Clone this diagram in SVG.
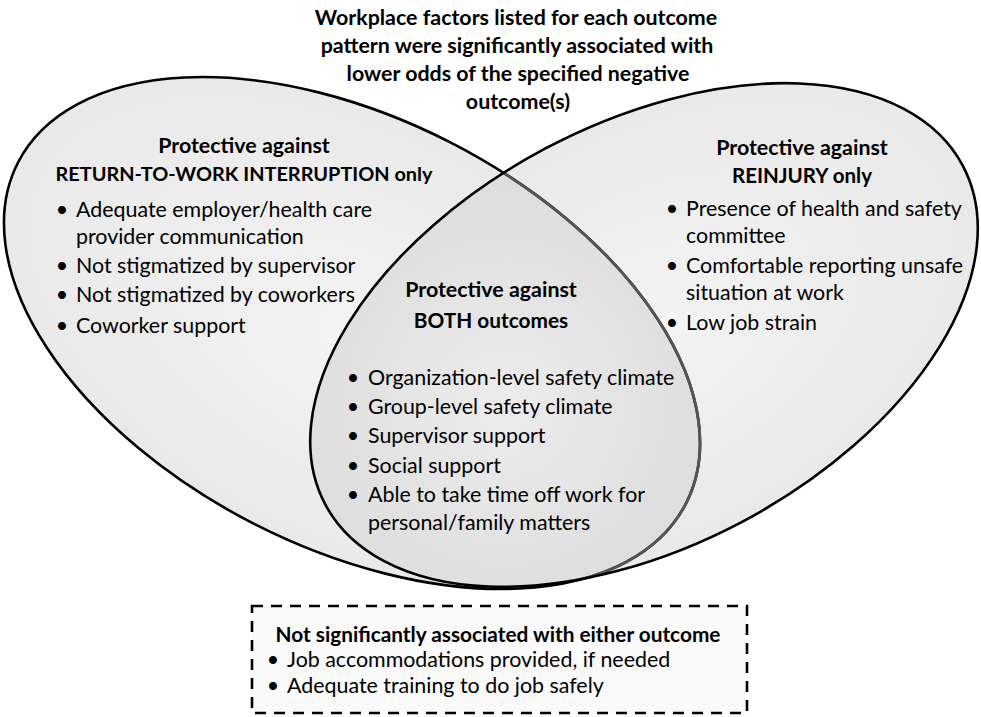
<svg xmlns="http://www.w3.org/2000/svg" width="981" height="717" viewBox="0 0 981 717">
<style>
text{font-family:Lato,"Liberation Sans",sans-serif;font-size:21.4px;fill:#000}
.h{font-weight:bold;text-anchor:middle}
.b{text-anchor:middle}
.outline{fill:none;stroke:#000;stroke-width:2.6}
</style>
<defs>
<radialGradient id="gOuter" cx="0.5" cy="0.5" r="0.5">
<stop offset="0" stop-color="#f4f4f4"/>
<stop offset="1" stop-color="#e9e9e9"/>
</radialGradient>
<radialGradient id="gInner" cx="0.5" cy="0.55" r="0.5">
<stop offset="0" stop-color="#ececec"/>
<stop offset="1" stop-color="#dddddd"/>
</radialGradient>
<clipPath id="clipL"><ellipse cx="352" cy="333" rx="375" ry="214.5" transform="rotate(27 352 333)"/></clipPath>
<clipPath id="clipR"><ellipse cx="644" cy="335" rx="361" ry="211" transform="rotate(-28 644 335)"/></clipPath>
</defs>
<rect width="981" height="717" fill="#fff"/>

<g id="shapes">
<ellipse cx="352" cy="333" rx="375" ry="214.5" transform="rotate(27 352 333)" fill="url(#gOuter)"/>
<ellipse cx="644" cy="335" rx="361" ry="211" transform="rotate(-28 644 335)" fill="url(#gOuter)"/>
</g>

<g id="overlap" clip-path="url(#clipR)">
<rect x="290" y="160" width="430" height="440" fill="url(#gInner)" clip-path="url(#clipL)"/>
</g>

<g id="outlines">
<ellipse class="outline" cx="352" cy="333" rx="375" ry="214.5" transform="rotate(27 352 333)"/>
<g clip-path="url(#clipR)">
<ellipse cx="352" cy="333" rx="375" ry="214.5" transform="rotate(27 352 333)" fill="none" stroke="#555" stroke-width="2.8"/>
</g>
<ellipse class="outline" cx="644" cy="335" rx="361" ry="211" transform="rotate(-28 644 335)"/>
</g>

<g id="title">
<text class="h" x="516" y="25">Workplace factors listed for each outcome</text>
<text class="h" x="517" y="53">pattern were significantly associated with</text>
<text class="h" x="518" y="81">lower odds of the specified negative</text>
<text class="h" x="518" y="109">outcome(s)</text>
</g>

<g id="rtw-only">
<text class="h" x="244" y="153">Protective against</text>
<text class="h" x="244" y="181" style="font-size:19.9px">RETURN-TO-WORK INTERRUPTION only</text>
<text class="b" x="62" y="217">•</text>
<text x="76" y="217">Adequate employer/health care</text>
<text x="76" y="244">provider communication</text>
<text class="b" x="62" y="273">•</text>
<text x="76" y="273">Not stigmatized by supervisor</text>
<text class="b" x="62" y="302">•</text>
<text x="76" y="302">Not stigmatized by coworkers</text>
<text class="b" x="62" y="333">•</text>
<text x="76" y="333">Coworker support</text>
</g>

<g id="reinjury-only">
<text class="h" x="802" y="155">Protective against</text>
<text class="h" x="802" y="183" style="font-size:20.5px">REINJURY only</text>
<text class="b" x="672" y="216">•</text>
<text x="686" y="216">Presence of health and safety</text>
<text x="686" y="243">committee</text>
<text class="b" x="672" y="273">•</text>
<text x="686" y="273">Comfortable reporting unsafe</text>
<text x="686" y="300">situation at work</text>
<text class="b" x="672" y="330">•</text>
<text x="686" y="330">Low job strain</text>
</g>

<g id="both">
<text class="h" x="491" y="297">Protective against</text>
<text class="h" x="491" y="328" style="font-size:20.8px">BOTH outcomes</text>
<text class="b" x="353" y="385">•</text>
<text x="368" y="385">Organization-level safety climate</text>
<text class="b" x="353" y="414">•</text>
<text x="368" y="414">Group-level safety climate</text>
<text class="b" x="353" y="443">•</text>
<text x="368" y="443">Supervisor support</text>
<text class="b" x="353" y="473">•</text>
<text x="368" y="473">Social support</text>
<text class="b" x="353" y="502">•</text>
<text x="368" y="502">Able to take time off work for</text>
<text x="368" y="530">personal/family matters</text>
</g>

<g id="neither">
<rect x="252" y="606" width="495" height="107" fill="#fafafa" stroke="#000" stroke-width="2.6" stroke-dasharray="11 8"/>
<text class="h" x="498" y="642" style="font-size:20.8px">Not significantly associated with either outcome</text>
<text class="b" x="273" y="667">•</text>
<text x="287" y="667">Job accommodations provided, if needed</text>
<text class="b" x="273" y="693">•</text>
<text x="287" y="693">Adequate training to do job safely</text>
</g>
</svg>
